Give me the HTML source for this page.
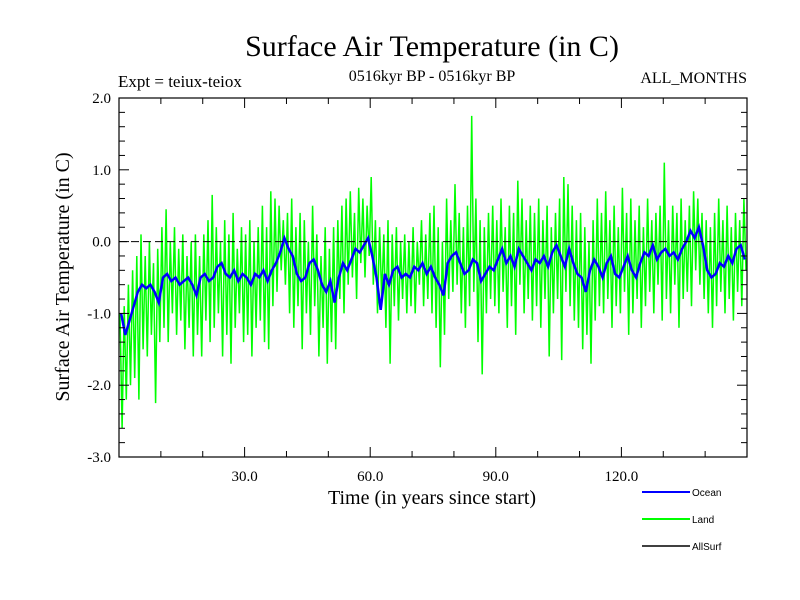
<!DOCTYPE html>
<html><head><meta charset="utf-8"><style>
html,body{margin:0;padding:0;background:#fff;}
svg{display:block;font-family:"Liberation Serif",serif;}
</style></head><body>
<svg id="chart" width="800" height="600">
<text x="432" y="56" font-size="30" text-anchor="middle">Surface Air Temperature (in C)</text>
<text x="432" y="81" font-size="16" text-anchor="middle">0516kyr BP - 0516kyr BP</text>
<text x="118" y="87" font-size="17">Expt = teiux-teiox</text>
<text x="747" y="83" font-size="16" text-anchor="end">ALL_MONTHS</text>
<text transform="translate(69,277) rotate(-90)" font-size="20" text-anchor="middle">Surface Air Temperature (in C)</text>
<text x="432" y="504" font-size="20" text-anchor="middle">Time (in years since start)</text>
<g id="plot"></g>
<g id="legend" font-family="Liberation Sans, sans-serif" font-size="10">
<g><line x1="642" y1="492" x2="690" y2="492" stroke="#0000ff" stroke-width="2"/><text x="692" y="496">Ocean</text></g>
<g><line x1="642" y1="519" x2="690" y2="519" stroke="#00ff00" stroke-width="2"/><text x="692" y="523">Land</text></g>
<g><line x1="642" y1="546" x2="690" y2="546" stroke="#000" stroke-width="1.5"/><text x="692" y="550">AllSurf</text></g>
</g>
</svg>
<script>
const xTicks = [30, 60, 90, 120];
const xTickLabels = ["30.0", "60.0", "90.0", "120.0"];
const yTicks = [2, 1, 0, -1, -2, -3];
const yTickLabels = ["2.0", "1.0", "0.0", "-1.0", "-2.0", "-3.0"];
const landValues = [
-1.0,-2.6,-0.9,-2.2,-0.6,-2.0,-0.4,-1.9,-0.2,-2.2,
0.1,-1.5,-0.2,-1.6,0.0,-1.3,-0.3,-2.25,-0.1,-1.4,
0.2,-1.2,0.45,-1.4,0.0,-1.0,0.2,-1.3,-0.1,-1.1,
0.1,-1.5,-0.2,-1.2,0.0,-1.6,0.1,-1.3,-0.2,-1.6,
0.1,-1.1,0.3,-1.4,0.65,-1.2,0.2,-1.0,0.0,-1.6,
0.3,-1.3,0.1,-1.7,0.4,-1.2,-0.1,-1.0,0.2,-1.4,
0.1,-1.3,0.3,-1.6,0.0,-1.2,0.2,-1.1,0.5,-1.4,
0.2,-1.5,0.7,-0.9,0.6,-0.7,0.5,-0.4,0.3,-0.6,
0.4,-1.0,0.6,-1.2,0.2,-0.9,0.4,-1.5,0.3,-1.0,
0.0,-1.3,0.5,-0.9,0.1,-1.6,-0.2,-1.2,0.2,-1.7,
-0.1,-1.4,0.2,-1.5,0.3,-0.8,0.5,-1.0,0.6,-0.6,
0.7,-0.5,0.4,-0.8,0.75,-0.3,0.6,-0.5,0.5,-0.2,
0.9,-0.6,0.3,-1.0,0.2,-0.8,0.1,-1.2,0.3,-1.7,
0.1,-0.9,0.2,-1.1,0.0,-0.8,0.1,-1.0,0.0,-0.9,
0.2,-1.0,0.0,-0.6,0.3,-0.9,0.1,-0.8,0.4,-1.0,
0.5,-1.2,0.2,-1.75,0.0,-1.3,0.6,-0.8,0.3,-0.7,
0.8,-0.6,0.4,-1.0,0.2,-1.2,0.5,-0.9,1.75,-0.7,
0.6,-1.4,0.3,-1.85,0.2,-1.0,0.4,-0.8,0.5,-0.9,
0.3,-1.0,0.6,-0.7,0.2,-1.2,0.5,-0.9,0.4,-1.3,
0.85,-0.6,0.6,-1.0,0.3,-0.8,0.5,-1.1,0.4,-0.9,
0.6,-1.2,0.3,-0.8,0.5,-1.6,0.2,-1.0,0.4,-0.8,
0.6,-1.65,0.9,-0.7,0.8,-0.9,0.5,-1.1,0.3,-1.2,
0.4,-1.5,0.2,-1.3,0.0,-1.7,0.3,-1.1,0.6,-0.9,
0.4,-1.0,0.7,-0.8,0.3,-1.2,0.5,-0.9,0.2,-1.0,
0.75,-0.7,0.4,-1.3,0.6,-1.0,0.3,-0.8,0.5,-1.2,
0.2,-0.9,0.6,-0.7,0.3,-1.0,0.4,-0.6,0.5,-1.1,
1.1,-0.8,0.3,-1.0,0.5,-0.6,0.4,-1.2,0.6,-0.8,
0.3,-0.7,0.5,-0.9,0.7,-0.4,0.6,-0.6,0.4,-0.8,
0.3,-1.0,0.2,-1.2,0.4,-0.9,0.6,-0.7,0.3,-1.0,
0.5,-0.8,0.2,-1.1,0.4,-0.7,0.3,-0.9,0.6,-0.4];
const oceanValues = [
-1.0,-1.3,-1.1,-0.9,-0.7,-0.6,-0.65,-0.6,-0.7,-0.85,
-0.5,-0.45,-0.55,-0.5,-0.6,-0.55,-0.5,-0.6,-0.75,-0.5,
-0.45,-0.55,-0.5,-0.35,-0.3,-0.45,-0.5,-0.4,-0.55,-0.45,
-0.5,-0.6,-0.45,-0.5,-0.4,-0.55,-0.4,-0.3,-0.15,0.05,
-0.1,-0.2,-0.45,-0.55,-0.5,-0.3,-0.25,-0.4,-0.6,-0.7,
-0.55,-0.85,-0.5,-0.3,-0.4,-0.25,-0.1,-0.15,-0.05,0.05,
-0.2,-0.5,-0.95,-0.45,-0.6,-0.4,-0.35,-0.5,-0.45,-0.5,
-0.35,-0.4,-0.3,-0.45,-0.35,-0.5,-0.6,-0.75,-0.3,-0.2,
-0.15,-0.3,-0.45,-0.4,-0.25,-0.3,-0.55,-0.45,-0.35,-0.4,
-0.25,-0.1,-0.3,-0.2,-0.35,-0.1,-0.2,-0.3,-0.4,-0.25,
-0.3,-0.2,-0.35,-0.15,-0.05,-0.2,-0.35,-0.1,-0.3,-0.45,
-0.5,-0.7,-0.4,-0.25,-0.35,-0.5,-0.3,-0.2,-0.45,-0.5,
-0.35,-0.2,-0.4,-0.5,-0.3,-0.15,-0.2,-0.05,-0.25,-0.15,
-0.1,-0.2,-0.15,-0.25,-0.1,0.0,0.15,0.05,0.2,-0.05,
-0.4,-0.5,-0.45,-0.3,-0.35,-0.2,-0.3,-0.1,-0.05,-0.25];

const L=119,R=747,T=98,B=457,X0=0,X1=150,Y0=-3,Y1=2;
const sx=v=>L+(v-X0)/(X1-X0)*(R-L);
const sy=v=>B-(v-Y0)/(Y1-Y0)*(B-T);
const NS="http://www.w3.org/2000/svg";
const plot=document.getElementById('plot');
function mk(tag,attrs,parent){const e=document.createElementNS(NS,tag);for(const k in attrs)e.setAttribute(k,attrs[k]);(parent||plot).appendChild(e);return e;}

const clip=mk('clipPath',{id:'pc'});mk('rect',{x:L,y:T,width:R-L,height:B-T},clip);

function pathFor(vals,span){const n=vals.length;return vals.map((v,i)=>(i?'L':'M')+sx(X0+(i+0.5)*span/n).toFixed(1)+','+sy(v).toFixed(1)).join('');}
const land=mk('path',{d:pathFor(landValues,X1-X0),fill:'none',stroke:'#00ff00','stroke-width':1.5,'clip-path':'url(#pc)'});


const ocean=mk('path',{d:pathFor(oceanValues,X1-X0),fill:'none',stroke:'#0000ff','stroke-width':2.5,'clip-path':'url(#pc)'});



const zero=mk('line',{x1:L,x2:R,y1:sy(0),y2:sy(0),stroke:'#000','stroke-width':1,'stroke-dasharray':'8,4'});



const frame=mk('rect',{x:L,y:T,width:R-L,height:B-T,fill:'none',stroke:'#000','stroke-width':1.2});



for(let v=10;v<X1;v+=10){const x=sx(v);const big=v%30===0;const len=big?10:6;
mk('line',{x1:x,x2:x,y1:B,y2:B-len,stroke:'#000'});mk('line',{x1:x,x2:x,y1:T,y2:T+len,stroke:'#000'});}
for(let k=0;k<=25;k++){const v=Y0+k*0.2;const y=sy(v);const big=k%5===0;const len=big?10:6;
mk('line',{x1:L,x2:L+len,y1:y,y2:y,stroke:'#000'});mk('line',{x1:R,x2:R-len,y1:y,y2:y,stroke:'#000'});}
xTicks.forEach((v,i)=>{const t=mk('text',{x:sx(v),y:B+24,'font-size':15,'text-anchor':'middle'});t.textContent=xTickLabels[i];

});
yTicks.forEach((v,i)=>{const t=mk('text',{x:L-8,y:sy(v)+5,'font-size':15,'text-anchor':'end'});t.textContent=yTickLabels[i];

});
</script>
</body></html>
